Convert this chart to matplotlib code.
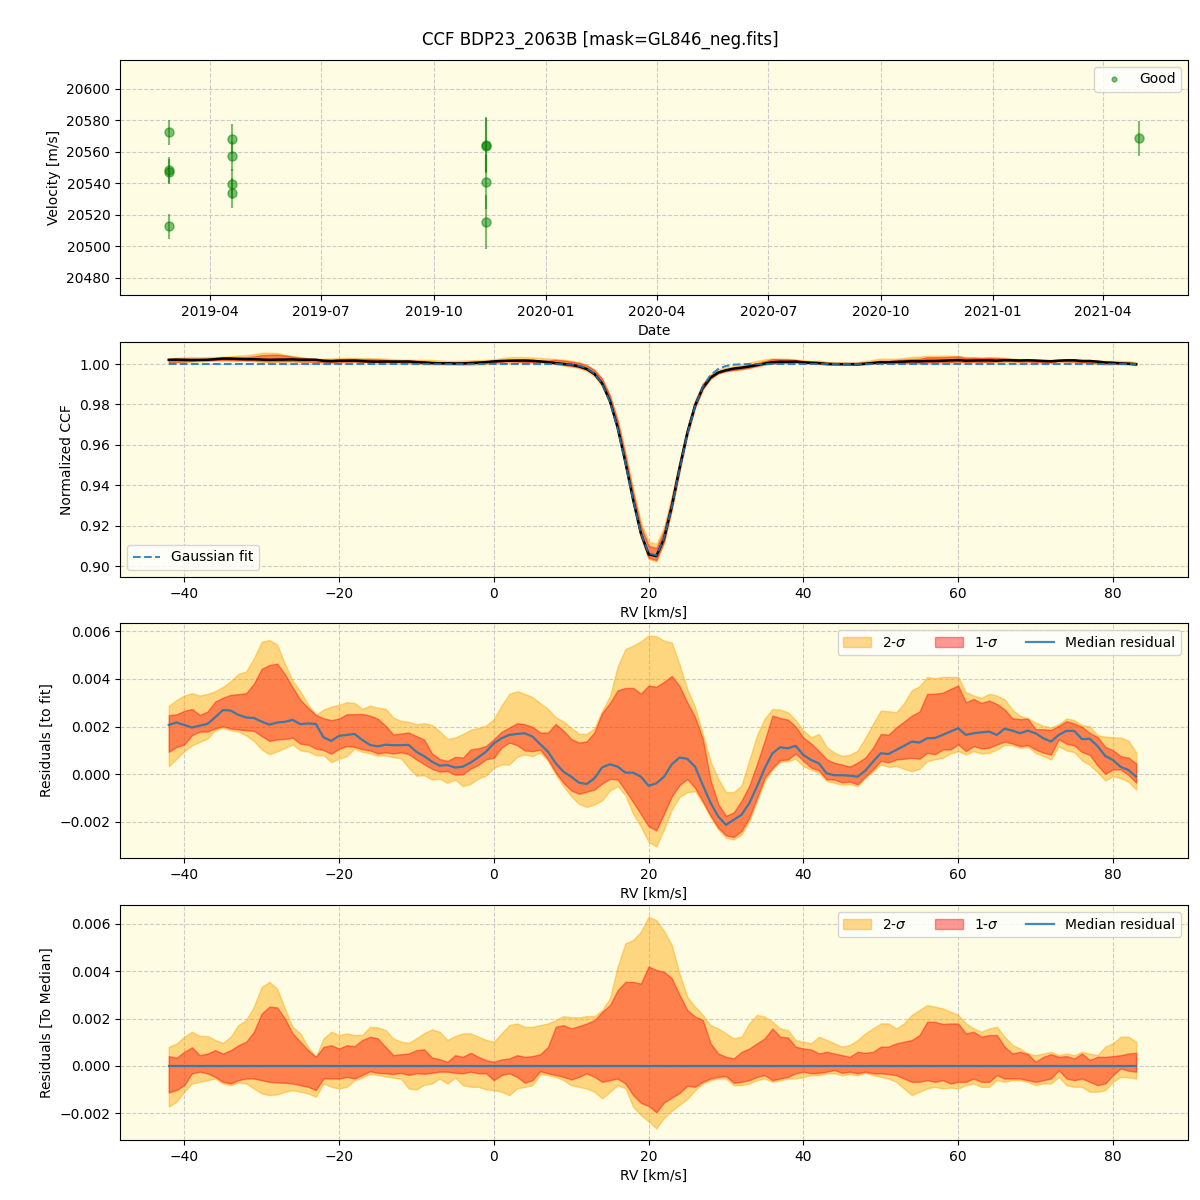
import numpy as np
import pandas as pd
import matplotlib
matplotlib.use('Agg')
import matplotlib.pyplot as plt
import matplotlib.dates as mdates
from matplotlib.lines import Line2D

# ---------------- data ----------------
title = 'CCF BDP23_2063B [mask=GL846_neg.fits]'

obs_dates = ['2019-02-26', '2019-02-26', '2019-02-26', '2019-02-26',
             '2019-04-19', '2019-04-19', '2019-04-19', '2019-04-19',
             '2019-11-13', '2019-11-13', '2019-11-13', '2019-11-13',
             '2021-05-01']
obs_vel = [20572.5, 20548.5, 20547.5, 20512.8,
           20568.0, 20557.3, 20539.5, 20533.8,
           20564.5, 20564.0, 20541.0, 20515.5,
           20568.7]
obs_err = [8.0, 8.0, 8.0, 8.0,
           9.5, 9.5, 9.5, 9.5,
           17.5, 17.5, 17.0, 17.0,
           11.0]

rv = np.arange(-42, 84)  # km/s

# Gaussian fit: 1.0 outside the line core
fit_core_rv = np.arange(9, 33)
fit_core = [0.99991, 0.99972, 0.99921, 0.99796, 0.99527, 0.99010, 0.98132, 0.96825,
            0.95134, 0.93282, 0.91641, 0.90628, 0.90529, 0.91376, 0.92923, 0.94767,
            0.96512, 0.97906, 0.98866, 0.99447, 0.99757, 0.99904, 0.99966, 0.99989]

# median residual to fit (units of 1e-3)
med_resid = [2.07, 2.17, 2.07, 1.96, 2.04, 2.11, 2.39, 2.69, 2.67, 2.49,
             2.38, 2.36, 2.21, 2.08, 2.17, 2.20, 2.28, 2.10, 2.13, 2.11,
             1.55, 1.40, 1.61, 1.65, 1.69, 1.44, 1.23, 1.17, 1.24, 1.22,
             1.22, 1.23, 0.94, 0.76, 0.53, 0.36, 0.39, 0.28, 0.32, 0.49,
             0.71, 0.95, 1.30, 1.51, 1.65, 1.69, 1.72, 1.58, 1.26, 0.95,
             0.46, 0.11, -0.10, -0.35, -0.41, -0.17, 0.29, 0.42, 0.32, 0.07,
             0.07, -0.10, -0.48, -0.38, -0.10, 0.42, 0.70, 0.65, 0.32, -0.45,
             -1.19, -1.77, -2.12, -1.91, -1.70, -1.22, -0.52, 0.25, 0.88, 1.13,
             1.09, 1.19, 0.81, 0.60, 0.46, 0.04, -0.04, -0.04, -0.06, -0.10,
             0.15, 0.53, 0.88, 0.85, 1.02, 1.19, 1.37, 1.33, 1.51, 1.52,
             1.65, 1.79, 1.93, 1.65, 1.72, 1.76, 1.79, 1.65, 1.91, 1.83,
             1.72, 1.83, 1.72, 1.51, 1.37, 1.65, 1.82, 1.82, 1.47, 1.49,
             1.19, 0.77, 0.60, 0.31, 0.18, -0.10]

# percentile offsets relative to median (units of 1e-3)
hi2 = [0.80, 0.94, 1.23, 1.44, 1.26, 1.26, 1.09, 0.97, 1.23, 1.72,
       1.93, 2.50, 3.34, 3.55, 3.27, 2.43, 1.65, 1.37, 0.80, 0.38,
       1.16, 1.44, 1.30, 1.37, 1.30, 1.30, 1.65, 1.62, 1.51, 1.16,
       1.02, 0.97, 1.16, 1.38, 1.54, 1.44, 1.09, 1.26, 1.37, 1.37,
       1.23, 1.09, 1.02, 1.37, 1.72, 1.79, 1.65, 1.65, 1.72, 1.79,
       1.93, 2.10, 2.05, 2.05, 2.10, 2.10, 2.36, 2.85, 4.19, 5.18,
       5.32, 5.67, 6.30, 6.16, 5.70, 5.10, 3.90, 2.92, 2.50, 2.15,
       1.72, 1.58, 1.37, 1.16, 1.23, 1.79, 2.15, 2.08, 1.86, 1.58,
       1.51, 1.09, 1.02, 0.95, 1.23, 1.09, 0.95, 0.81, 0.88, 1.09,
       1.37, 1.58, 1.79, 1.79, 1.58, 1.79, 2.15, 2.36, 2.57, 2.50,
       2.43, 2.29, 2.15, 1.79, 1.58, 1.44, 1.58, 1.65, 1.23, 0.88,
       0.73, 0.52, 0.45, 0.52, 0.59, 0.45, 0.52, 0.45, 0.59, 0.52,
       0.45, 0.81, 0.95, 1.23, 1.23, 1.02]
hi1 = [0.41, 0.34, 0.59, 0.78, 0.45, 0.52, 0.66, 0.52, 0.66, 0.87,
       1.02, 1.44, 2.21, 2.50, 2.47, 2.00, 1.37, 1.02, 0.66, 0.38,
       0.80, 0.87, 0.73, 0.87, 0.83, 1.09, 1.23, 1.16, 0.80, 0.45,
       0.49, 0.52, 0.66, 0.70, 0.35, 0.28, 0.17, 0.45, 0.38, 0.55,
       0.38, 0.24, 0.17, 0.27, 0.31, 0.45, 0.38, 0.41, 0.49, 0.80,
       1.65, 1.72, 1.58, 1.68, 1.79, 1.93, 2.28, 2.57, 3.20, 3.55,
       3.55, 3.48, 4.20, 4.05, 3.98, 3.70, 3.00, 2.36, 2.08, 1.94,
       0.95, 0.52, 0.38, 0.31, 0.59, 0.73, 0.95, 1.16, 1.58, 1.23,
       1.20, 0.81, 0.73, 0.69, 0.52, 0.59, 0.52, 0.45, 0.38, 0.59,
       0.55, 0.59, 0.81, 0.81, 0.95, 1.02, 1.09, 1.30, 1.86, 1.86,
       1.77, 1.79, 1.79, 1.37, 1.44, 1.23, 1.30, 1.30, 0.81, 0.52,
       0.59, 0.50, 0.17, 0.38, 0.49, 0.38, 0.41, 0.31, 0.52, 0.24,
       0.38, 0.38, 0.41, 0.45, 0.52, 0.55]
lo1 = [-1.13, -1.03, -0.82, -0.32, -0.25, -0.32, -0.47, -0.68, -0.75, -0.61,
       -0.54, -0.54, -0.61, -0.68, -0.71, -0.72, -0.75, -0.82, -0.89, -1.03,
       -0.54, -0.54, -0.54, -0.47, -0.54, -0.39, -0.23, -0.30, -0.32, -0.35,
       -0.30, -0.39, -0.32, -0.34, -0.30, -0.25, -0.25, -0.30, -0.32, -0.25,
       -0.32, -0.32, -0.61, -0.39, -0.32, -0.47, -0.72, -0.61, -0.23, -0.32,
       -0.39, -0.47, -0.58, -0.47, -0.32, -0.47, -0.68, -0.61, -0.54, -0.75,
       -1.24, -1.57, -1.70, -1.97, -1.55, -1.35, -1.15, -0.85, -0.89, -0.68,
       -0.54, -0.47, -0.44, -0.72, -0.68, -0.61, -0.47, -0.40, -0.61, -0.54,
       -0.47, -0.32, -0.25, -0.32, -0.30, -0.25, -0.18, -0.30, -0.25, -0.32,
       -0.25, -0.32, -0.32, -0.35, -0.40, -0.54, -0.68, -0.68, -0.61, -0.68,
       -0.61, -0.75, -0.68, -0.68, -0.54, -0.68, -0.68, -0.40, -0.54, -0.54,
       -0.54, -0.61, -0.68, -0.61, -0.54, -0.18, -0.54, -0.61, -0.54, -0.68,
       -0.82, -0.75, -0.40, -0.11, -0.21, -0.25]
lo2 = [-1.73, -1.52, -1.10, -0.75, -0.68, -0.61, -0.54, -0.75, -0.82, -0.70,
       -0.75, -0.96, -1.17, -1.24, -1.21, -1.10, -1.03, -1.10, -1.17, -1.31,
       -0.75, -0.89, -0.96, -0.89, -0.61, -0.50, -0.35, -0.39, -0.45, -0.50,
       -0.55, -0.96, -1.00, -0.80, -0.75, -0.54, -0.75, -0.50, -0.82, -0.89,
       -0.89, -1.00, -1.03, -1.10, -1.24, -0.96, -0.89, -0.82, -0.35, -0.39,
       -0.47, -0.61, -0.82, -0.89, -0.96, -1.10, -1.38, -1.10, -0.82, -0.95,
       -1.73, -2.09, -2.35, -2.65, -2.20, -1.90, -1.65, -1.40, -1.03, -0.75,
       -0.61, -0.54, -0.54, -0.82, -0.82, -0.75, -0.61, -0.54, -0.68, -0.61,
       -0.54, -0.54, -0.47, -0.40, -0.40, -0.32, -0.32, -0.40, -0.35, -0.40,
       -0.30, -0.40, -0.47, -0.54, -0.68, -0.96, -1.24, -1.10, -0.96, -0.89,
       -0.96, -0.92, -0.96, -0.82, -0.75, -0.89, -0.89, -0.61, -0.68, -0.61,
       -0.61, -0.68, -0.82, -0.75, -0.75, -0.47, -0.82, -0.89, -0.89, -1.10,
       -1.10, -1.03, -0.68, -0.47, -0.49, -0.54]

# ---------------- derived ----------------
scale = 1e-3
med = np.array(med_resid) * scale
o_h2, o_h1 = np.array(hi2) * scale, np.array(hi1) * scale
o_l1, o_l2 = np.array(lo1) * scale, np.array(lo2) * scale

gauss = np.ones(len(rv))
gauss[np.isin(rv, fit_core_rv)] = fit_core
ccf_med = gauss + med

dates = pd.to_datetime(obs_dates)

BG = '#fefce2'
C2 = 'orange'
C1 = 'red'
A2 = 0.43
A1 = 0.4
CMED = 'tab:blue'

fig = plt.figure(figsize=(12, 12), dpi=100)
fig.suptitle(title, fontsize=12, y=0.974)

L, W, H = 0.1, 0.89, 0.1958
ax1 = fig.add_axes([L, 0.7542, W, H])
ax2 = fig.add_axes([L, 0.5192, W, H])
ax3 = fig.add_axes([L, 0.2850, W, H])
ax4 = fig.add_axes([L, 0.0500, W, H])

for ax in (ax1, ax2, ax3, ax4):
    ax.set_facecolor(BG)
    ax.grid(True, linestyle='--', color='#cccccc', linewidth=0.8)
    ax.set_axisbelow(True)

# ---- panel 1: velocities
ax1.errorbar(dates, obs_vel, yerr=obs_err, fmt='o', color='green', alpha=0.5,
             ms=6.5, lw=1.5)
ax1.xaxis.set_major_locator(mdates.MonthLocator(bymonth=[1, 4, 7, 10]))
ax1.xaxis.set_major_formatter(mdates.DateFormatter('%Y-%m'))
ax1.set_ylim(20469.2, 20618.4)
ax1.set_yticks(np.arange(20480, 20601, 20))
ax1.set_xlabel('Date')
ax1.set_ylabel('Velocity [m/s]')
h_good = Line2D([], [], marker='o', ls='', color='green', alpha=0.5, ms=3.5)
ax1.legend([h_good], ['Good'], loc='upper right')

# ---- panel 2: CCF
ax2.fill_between(rv, ccf_med + o_l2, ccf_med + o_h2, color=C2, alpha=A2)
ax2.fill_between(rv, ccf_med + o_l1, ccf_med + o_h1, color=C1, alpha=A1)
ax2.plot(rv, ccf_med, color='black', lw=1.8)
ax2.plot(rv, gauss, ls='--', color=CMED, lw=1.5, alpha=0.85, label='Gaussian fit')
ax2.set_ylim(0.8946, 1.0109)
ax2.set_xlim(-48.3, 89.7)
ax2.set_xlabel('RV [km/s]')
ax2.set_ylabel('Normalized CCF')
ax2.legend(loc='lower left')

# ---- panel 3: residuals to fit
ax3.fill_between(rv, med + o_l2, med + o_h2, color=C2, alpha=A2, label='2-$\\sigma$')
ax3.fill_between(rv, med + o_l1, med + o_h1, color=C1, alpha=A1, label='1-$\\sigma$')
ax3.plot(rv, med, color=CMED, lw=1.6, alpha=0.85, label='Median residual')
ax3.set_ylim(-0.00351, 0.00634)
ax3.set_xlim(-48.3, 89.7)
ax3.set_xlabel('RV [km/s]')
ax3.set_ylabel('Residuals [to fit]')
ax3.legend(loc='upper right', ncol=3)

# ---- panel 4: residuals to median
zero = np.zeros(len(rv))
ax4.fill_between(rv, o_l2, o_h2, color=C2, alpha=A2, label='2-$\\sigma$')
ax4.fill_between(rv, o_l1, o_h1, color=C1, alpha=A1, label='1-$\\sigma$')
ax4.plot(rv, zero, color=CMED, lw=1.6, alpha=0.85, label='Median residual')
ax4.set_ylim(-0.00314, 0.0068)
ax4.set_xlim(-48.3, 89.7)
ax4.set_xlabel('RV [km/s]')
ax4.set_ylabel('Residuals [To Median]')
ax4.legend(loc='upper right', ncol=3)

fig.savefig('out.png', dpi=100)
